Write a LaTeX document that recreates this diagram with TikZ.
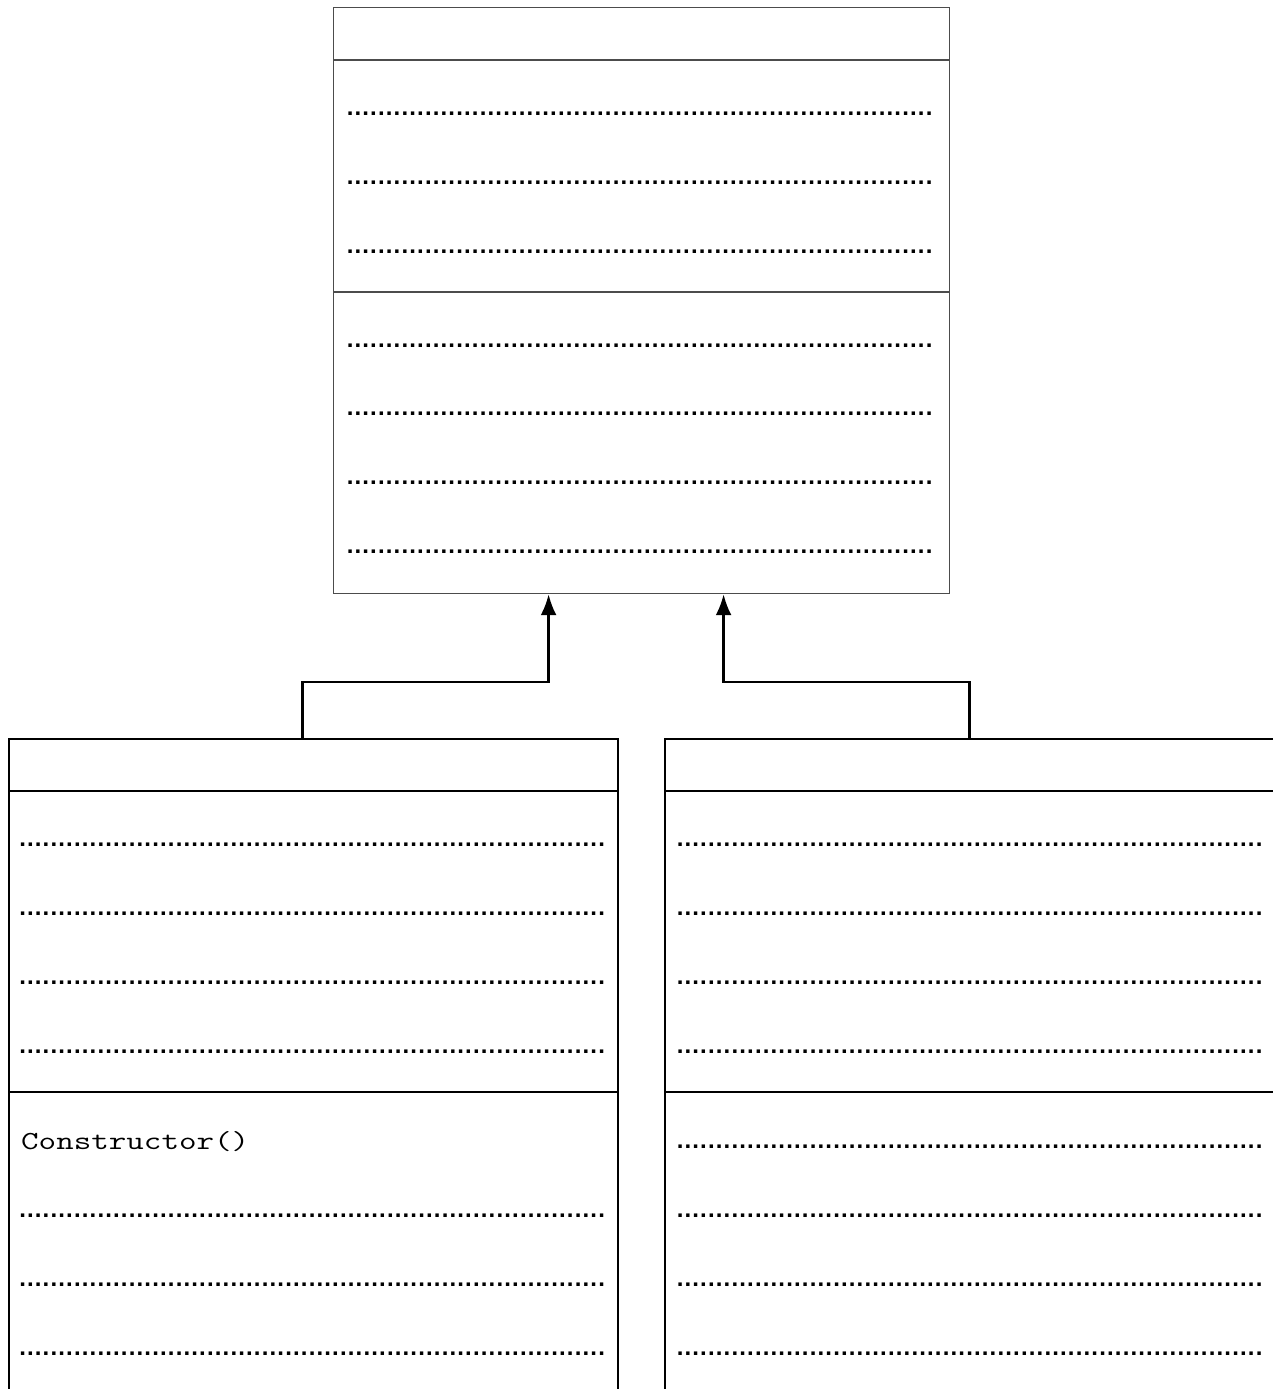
\documentclass[tikz,border=0pt]{standalone}
\usepackage{fontspec}
\setmainfont{Liberation Sans}
\usetikzlibrary{arrows.meta,positioning}

\newcommand{\dotrow}[1]{\hbox to #1pt{\leaders\hbox to 7.82pt{\hss.\hss}\hfill}}

\tikzset{
  classbox/.style={draw=black!70,line width=1.2pt,rectangle,inner sep=0pt,anchor=north west},
  subbox/.style={draw=black,line width=1.5pt,rectangle,inner sep=0pt,anchor=north west,
    minimum width=609pt,minimum height=700pt},
  dots/.style={anchor=base west,inner sep=0pt,font=\bfseries\fontsize{24}{24}\selectfont},
  member/.style={anchor=base west,inner sep=0pt,font=\ttfamily\fontsize{26}{26}\selectfont},
  inherit/.style={->,line width=2.6pt},
}

\begin{document}
\begin{tikzpicture}[>={Latex[length=21pt,width=16pt]},x=1pt,y=-1pt]
\useasboundingbox (0,0) rectangle (1273,1389);
\clip (0,0) rectangle (1273,1389);

\node[classbox,minimum width=616pt,minimum height=586pt] (base) at (333,7) {};
\draw[black!70,line width=1.2pt] ([yshift=-53pt]base.north west) -- ([yshift=-53pt]base.north east);
\draw[black!70,line width=1.2pt] ([yshift=-285pt]base.north west) -- ([yshift=-285pt]base.north east);
\foreach \y in {114,183,252,346,414,483,552}
  \node[dots] at (346,\y+1.5) {\dotrow{590}};

\node[subbox] (sub1) at (8,738) {};
\node[subbox] (sub2) at (664,738) {};
\foreach \b in {sub1,sub2} {
  \draw[line width=1.5pt] ([yshift=-53pt]\b.north west) -- ([yshift=-53pt]\b.north east);
  \draw[line width=1.5pt] ([yshift=-354pt]\b.north west) -- ([yshift=-354pt]\b.north east);
}
\foreach \y in {845,914,983,1052,1216,1285,1354}
  \node[dots] at (18.5,\y+1.5) {\dotrow{588}};
\node[member] (ctor) at (21,1149) {\scalebox{1.31}[1]{Constructor()}};
\foreach \y in {845,914,983,1052,1147,1216,1285,1354}
  \node[dots] at (676,\y+1.5) {\dotrow{588}};

\draw[inherit] ([xshift=-10.5pt]sub1.north) -- ++(0,-56) -| ([xshift=-93pt]base.south);
\draw[inherit] (sub2.north) -- ++(0,-56) -| ([xshift=82pt]base.south);
\end{tikzpicture}
\end{document}
